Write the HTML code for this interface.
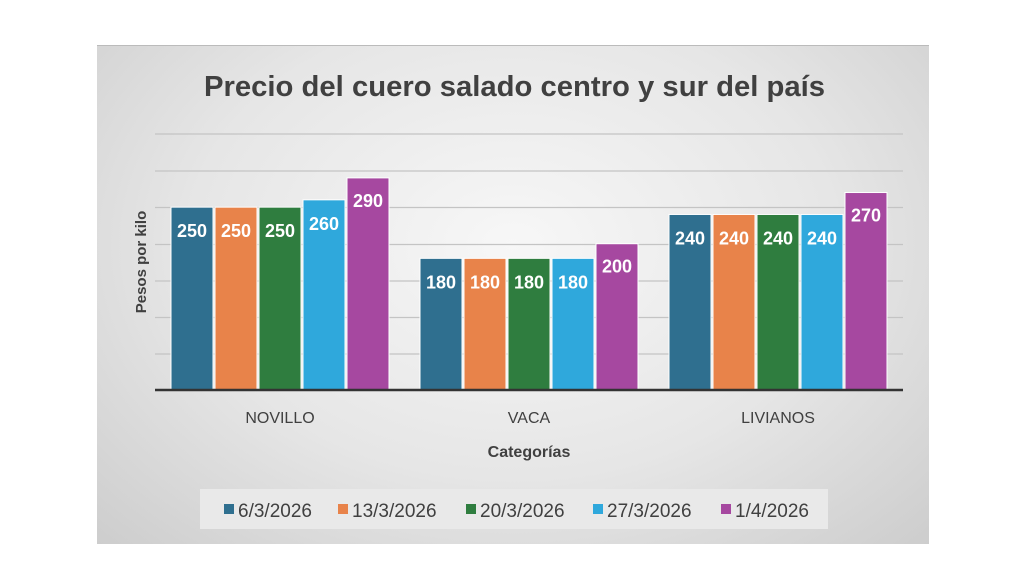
<!DOCTYPE html>
<html><head><meta charset="utf-8"><style>
body{margin:0;width:1024px;height:576px;background:#fff;position:relative;overflow:hidden;font-family:"Liberation Sans",sans-serif}
#c{position:absolute;left:97px;top:45px;width:832px;height:498px;background:radial-gradient(ellipse at 50% 40%,#f7f7f7 0%,#e6e6e6 55%,#cdcdcd 100%);border-top:1px solid #bbb}
</style></head><body>
<div id="c"></div>
<svg width="1024" height="576" style="position:absolute;left:0;top:0">
<g stroke="#c4c4c4" stroke-width="1.3">
<line x1="155" x2="903" y1="134" y2="134"/><line x1="155" x2="903" y1="171" y2="171"/>
<line x1="155" x2="903" y1="207.5" y2="207.5"/><line x1="155" x2="903" y1="244.5" y2="244.5"/>
<line x1="155" x2="903" y1="281" y2="281"/><line x1="155" x2="903" y1="317.5" y2="317.5"/>
<line x1="155" x2="903" y1="354" y2="354"/>
</g>
<g id="bars"></g>
<line x1="155" x2="903" y1="390" y2="390" stroke="#333" stroke-width="2.5"/>
<text x="204" y="96" font-size="29" font-weight="bold" fill="#404040" textLength="621" lengthAdjust="spacingAndGlyphs">Precio del cuero salado centro y sur del país</text>
<text transform="translate(146,262) rotate(-90)" font-size="15" font-weight="bold" fill="#404040" text-anchor="middle">Pesos por kilo</text>
<g font-size="16" fill="#404040" text-anchor="middle">
<text x="280" y="423">NOVILLO</text><text x="529" y="423">VACA</text><text x="778" y="423">LIVIANOS</text>
</g>
<text x="529" y="457" font-size="16" font-weight="bold" fill="#404040" text-anchor="middle">Categorías</text>
<rect x="200" y="489" width="628" height="40" fill="#e9e9e9"/>
<g font-size="19" fill="#404040">
<rect x="224" y="504" width="10" height="10" fill="#2f6f8f"/><text x="238" y="517">6/3/2026</text>
<rect x="338" y="504" width="10" height="10" fill="#e8834a"/><text x="352" y="517">13/3/2026</text>
<rect x="466" y="504" width="10" height="10" fill="#2f7d3f"/><text x="480" y="517">20/3/2026</text>
<rect x="593" y="504" width="10" height="10" fill="#2fa8dc"/><text x="607" y="517">27/3/2026</text>
<rect x="721" y="504" width="10" height="10" fill="#a648a0"/><text x="735" y="517">1/4/2026</text>
</g>
</svg>
<script>
var cols=["#2f6f8f","#e8834a","#2f7d3f","#2fa8dc","#a648a0"];
var data=[[250,250,250,260,290],[180,180,180,180,200],[240,240,240,240,270]];
var g=document.getElementById("bars"),s="";
for(var i=0;i<3;i++)for(var j=0;j<5;j++){var x=171+i*249+j*44,v=data[i][j],y=390-v*0.7314;
s+='<rect x="'+x+'" y="'+y+'" width="42" height="'+(390-y)+'" fill="'+cols[j]+'" stroke="#fff" stroke-width="1"/>';
s+='<text x="'+(x+21)+'" y="'+(y+(j==4?29:30))+'" font-size="18" font-weight="bold" fill="#fff" text-anchor="middle">'+v+'</text>';}
g.innerHTML=s;
</script>
</body></html>
